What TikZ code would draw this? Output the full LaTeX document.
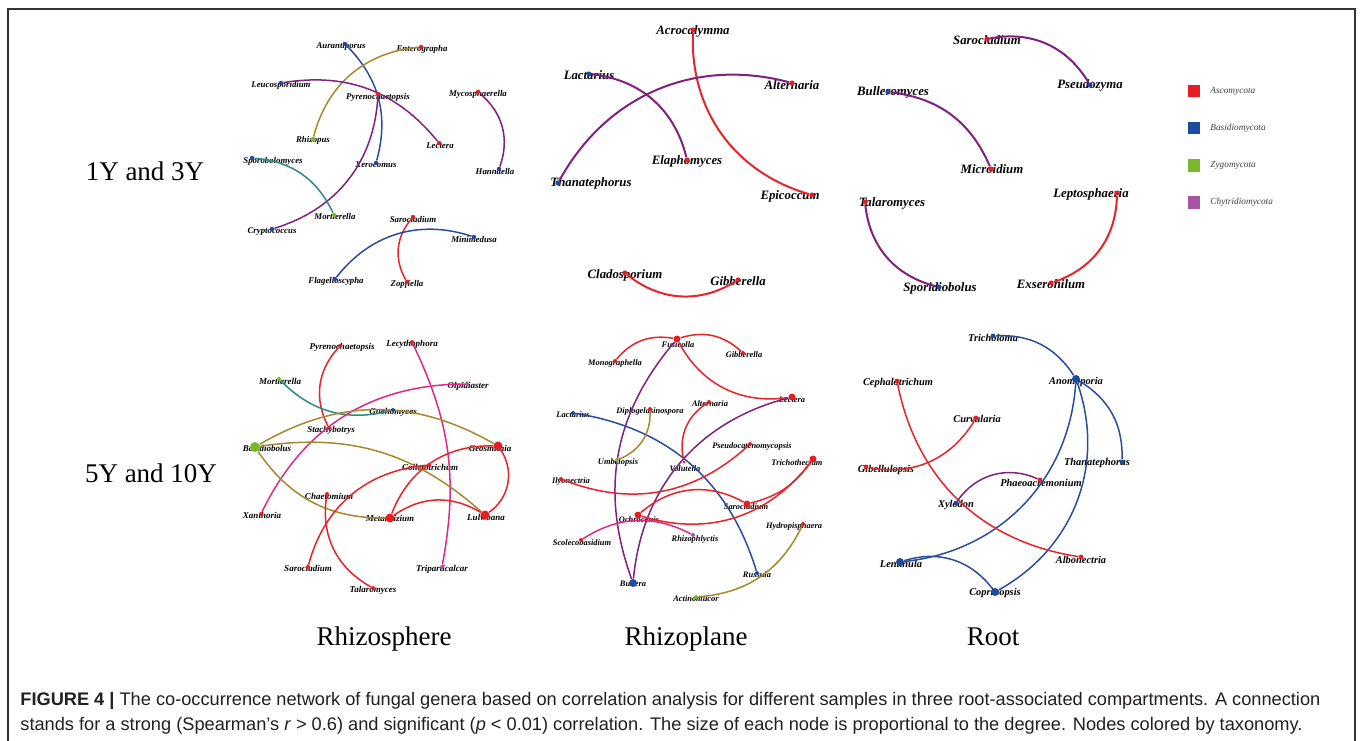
\documentclass[tikz,border=0pt]{standalone}
\usepackage{fontspec}
\usepackage{graphicx}
\setmainfont{Liberation Serif}
\newfontfamily\capfont{Liberation Sans}
\pgfdeclarelayer{bg}
\pgfdeclarelayer{lab}
\pgfdeclarelayer{edg}
\pgfsetlayers{bg,lab,edg,main}
\definecolor{asc}{HTML}{E61E23}
\definecolor{bas}{HTML}{1F4B9E}
\definecolor{zyg}{HTML}{78B82A}
\definecolor{chy}{HTML}{A855A8}
\definecolor{eR}{HTML}{E8232A}
\definecolor{eB}{HTML}{2A4DA0}
\definecolor{eP}{HTML}{80207F}
\definecolor{eT}{HTML}{2E8B8B}
\definecolor{eO}{HTML}{A8882E}
\definecolor{eK}{HTML}{E0288A}
\definecolor{captxt}{HTML}{231F20}
\tikzset{
  dot/.style={circle, inner sep=0pt, draw=none},
  lbl/.style={font=\fontsize{4.4}{5}\selectfont\bfseries\itshape, inner sep=0pt, text height=0.68em, text depth=0.2em},
  ed/.style={line width=0.75pt},
  edb/.style={line width=1pt},
  rowlbl/.style={font=\fontsize{13.5}{16}\selectfont, inner sep=0pt, anchor=base},
  legbox/.style={rectangle, inner sep=0pt, minimum size=6.2pt, draw=none},
  legtxt/.style={font=\fontsize{4.65}{6}\selectfont\itshape, text=black!75, inner sep=0pt, anchor=west},
}
\newcommand{\gn}[6]{%
  \node[dot, fill=#4, minimum size=#3pt] (#1) at (#2) {};
  \begin{pgfonlayer}{lab}\node[lbl] (#1l) at (#5) {#6};\end{pgfonlayer}}
\begin{document}
\begin{tikzpicture}[x=0.5pt, y=-0.5pt]
\useasboundingbox (0,0) rectangle (1360,740);
\begin{pgfonlayer}{bg}
\fill[white] (0,0) rectangle (1360,740);
\end{pgfonlayer}
\draw[line width=0.7pt, draw=black!80] (8,742) -- (8,9) -- (1355,9) -- (1355,742);

% row and column labels
\node[rowlbl] (row1) at (145,180) {1Y and 3Y};
\node[rowlbl] (row2) at (151,482) {5Y and 10Y};
\node[rowlbl] (col1) at (384,645) {Rhizosphere};
\node[rowlbl] (col2) at (686,645) {Rhizoplane};
\node[rowlbl] (col3) at (993,645) {Root};

% legend
\node[legbox, fill=asc] (k1) at (1194,91) {};
\node[legbox, fill=bas] (k2) at (1194,128) {};
\node[legbox, fill=zyg] (k3) at (1194,165.5) {};
\node[legbox, fill=chy] (k4) at (1194,202.5) {};
\node[legtxt] (k1t) at (1210,91) {Ascomycota};
\node[legtxt] (k2t) at (1210,128) {Basidiomycota};
\node[legtxt] (k3t) at (1210,165.5) {Zygomycota};
\node[legtxt] (k4t) at (1210,202.5) {Chytridiomycota};

% Panel a: Rhizosphere 1Y and 3Y
\gn{a1}{345,44}{2.2}{bas}{341,44}{Aurantiporus}
\gn{a2}{421,47}{2.2}{asc}{422,47}{Enterographa}
\gn{a3}{281,83}{2.2}{bas}{281,83}{Leucosporidium}
\gn{a4}{378,94}{2.2}{asc}{378,95}{Pyrenochaetopsis}
\gn{a5}{478,92}{2.2}{asc}{478,92}{Mycosphaerella}
\gn{a6}{313,139}{2.2}{zyg}{313,138}{Rhizopus}
\gn{a7}{439,143}{2.2}{asc}{440,144}{Lectera}
\gn{a8}{252,158}{2.2}{bas}{273,159}{Sporobolomyces}
\gn{a9}{376,163}{2.2}{bas}{376,163}{Xerocomus}
\gn{a10}{499,169}{2.2}{bas}{495,170}{Hannaella}
\gn{a11}{334,215}{2.2}{zyg}{335,215}{Mortierella}
\gn{a12}{272,229}{2.2}{bas}{272,229}{Cryptococcus}
\gn{a13}{413,217}{2.2}{asc}{413,218}{Sarocladium}
\gn{a14}{474,237}{2.2}{bas}{474,238}{Minimedusa}
\gn{a15}{335,279}{2.2}{bas}{336,279}{Flagelloscypha}
\gn{a16}{407,282}{2.2}{asc}{407,282}{Zopfiella}

% Panel b: Rhizoplane 1Y and 3Y
\begin{scope}[lbl/.append style={font=\fontsize{6.4}{7}\selectfont\bfseries\itshape}]
\gn{b1}{693,30}{2.6}{asc}{693,30}{Acrocalymma}
\gn{b2}{589,74}{2.6}{bas}{589,75}{Lactarius}
\gn{b3}{792,83}{2.6}{asc}{792,85}{Alternaria}
\gn{b4}{687,160}{2.6}{asc}{687,160}{Elaphomyces}
\gn{b5}{558,183}{2.6}{bas}{591,182}{Thanatephorus}
\gn{b6}{812,195}{2.6}{asc}{790,195}{Epicoccum}
\gn{b7}{625,273}{2.6}{asc}{625,274}{Cladosporium}
\gn{b8}{738,280}{2.6}{asc}{738,281}{Gibberella}
% Panel c: Root 1Y and 3Y
\gn{c1}{987,39}{2.6}{asc}{987,40}{Sarocladium}
\gn{c2}{1090,85}{2.6}{bas}{1090,84}{Pseudozyma}
\gn{c3}{888,92}{2.6}{bas}{893,91}{Bulleromyces}
\gn{c4}{991,169}{2.6}{asc}{992,169}{Microidium}
\gn{c5}{865,202}{2.6}{asc}{892,202}{Talaromyces}
\gn{c6}{1117,193}{2.6}{asc}{1091,193}{Leptosphaeria}
\gn{c7}{939,287}{2.6}{bas}{940,287}{Sporidiobolus}
\gn{c8}{1051,283}{2.6}{asc}{1051,284}{Exserohilum}
\end{scope}

% Panel d: Rhizosphere 5Y and 10Y
\begin{scope}[lbl/.append style={font=\fontsize{4.5}{5}\selectfont\bfseries\itshape}]
\gn{d1}{340,346}{2}{asc}{342,345}{Pyrenochaetopsis}
\gn{d2}{412,342}{2}{asc}{412,342}{Lecythophora}
\gn{d3}{279,379}{2}{zyg}{280,380}{Mortierella}
\gn{d4}{467,384}{2}{chy}{468,384}{Olpidiaster}
\gn{d5}{393,410}{2}{bas}{393,410}{Guehomyces}
\gn{d6}{329,428}{2}{asc}{331,428}{Stachybotrys}
\gn{d7}{255,447}{5}{zyg}{267,447}{Basidiobolus}
\gn{d8}{498,446}{4.5}{asc}{490,447}{Geosmithia}
\gn{d9}{429,465}{2}{asc}{430,466}{Colletotrichum}
\gn{d10}{327,494}{2}{asc}{329,495}{Chaetomium}
\gn{d11}{261,514}{2}{asc}{262,514}{Xanthoria}
\gn{d12}{390,518}{4.5}{asc}{390,517}{Metarhizium}
\gn{d13}{485,515}{4.5}{asc}{486,516}{Lulwoana}
\gn{d14}{308,567}{2}{asc}{308,567}{Sarocladium}
\gn{d15}{442,567}{2}{chy}{442,567}{Triparticalcar}
\gn{d16}{373,588}{2}{asc}{373,588}{Talaromyces}
\end{scope}

% Panel e: Rhizoplane 5Y and 10Y
\begin{scope}[lbl/.append style={font=\fontsize{4.2}{5}\selectfont\bfseries\itshape}]
\gn{e1}{677,339}{3.5}{asc}{678,343}{Fusicolla}
\gn{e2}{743,353}{2}{asc}{744,353}{Gibberella}
\gn{e3}{615,361}{2}{asc}{615,361}{Monographella}
\gn{e4}{792,397}{3.5}{asc}{792,398}{Lectera}
\gn{e5}{709,402}{2}{asc}{710,402}{Alternaria}
\gn{e6}{573,413}{2}{bas}{573,413}{Lactarius}
\gn{e7}{650,409}{2}{asc}{650,409}{Diplogelasinospora}
\gn{e8}{750,444}{2}{asc}{752,444}{Pseudocatenomycopsis}
\gn{e9}{617,460}{2}{zyg}{618,460}{Umbelopsis}
\gn{e10}{684,462}{1.5}{asc}{685,467}{Volutella}
\gn{e11}{813,459}{3.5}{asc}{797,461}{Trichothecium}
\gn{e12}{561,479}{2}{asc}{571,479}{Ilyonectria}
\gn{e13}{747,504}{3.5}{asc}{746,505}{Sarocladium}
\gn{e14}{638,515}{3.5}{asc}{639,518}{Ochroconis}
\gn{e15}{803,524}{2}{asc}{794,524}{Hydropisphaera}
\gn{e16}{581,540}{2}{asc}{582,541}{Scolecobasidium}
\gn{e17}{693,535}{2}{chy}{695,537}{Rhizophlyctis}
\gn{e18}{757,573}{2}{bas}{757,573}{Russula}
\gn{e19}{633,583}{4}{bas}{633,582}{Bullera}
\gn{e20}{696,597}{2}{zyg}{696,597}{Actinomucor}
\end{scope}

% Panel f: Root 5Y and 10Y
\begin{scope}[lbl/.append style={font=\fontsize{5.2}{6}\selectfont\bfseries\itshape}]
\gn{f1}{993,336}{2.4}{bas}{993,337}{Tricholoma}
\gn{f2}{1076,379}{4}{bas}{1076,380}{Anomoporia}
\gn{f3}{897,381}{2.4}{asc}{898,381}{Cephalotrichum}
\gn{f4}{976,418}{2.4}{asc}{977,418}{Curvularia}
\gn{f5}{1122,462}{2.4}{bas}{1097,461}{Thanatephorus}
\gn{f6}{866,467}{2.4}{asc}{886,468}{Gibellulopsis}
\gn{f7}{1040,480}{2.4}{asc}{1041,482}{Phaeoacremonium}
\gn{f8}{956,503}{2.4}{bas}{956,503}{Xylodon}
\gn{f9}{1081,557}{2.4}{asc}{1081,559}{Albonectria}
\gn{f10}{900,562}{4}{bas}{901,563}{Lentinula}
\gn{f11}{995,592}{4}{bas}{995,591}{Coprinopsis}
\end{scope}

\begin{pgfonlayer}{edg}
% a
\draw[ed, eB] (a1) to[bend left=30] (a9);
\draw[ed, eO] (a2) to[bend right=35] (a6);
\draw[ed, eP] (a3) to[bend left=30] (a7);
\draw[ed, eP] (a4) to[bend left=35] (a12);
\draw[ed, eP] (a5) to[bend left=35] (a10);
\draw[ed, eT] (a8) to[bend left=30] (a11);
\draw[ed, eR] (a13) to[bend right=35] (a16);
\draw[ed, eB] (a14) to[bend right=35] (a15);
% b
\draw[edb, eR] (b1) to[bend right=38] (b6);
\draw[edb, eP] (b2) to[bend left=35] (b4);
\draw[edb, eP] (b5) to[bend left=38] (b3);
\draw[edb, eR] (b7) to[bend right=35] (b8);
% c
\draw[edb, eP] (c1) to[bend left=35] (c2);
\draw[edb, eP] (c3) to[bend left=30] (c4);
\draw[edb, eP] (c5) to[bend right=35] (c7);
\draw[edb, eR] (c6) to[bend left=35] (c8);
% d
\draw[ed, eR] (d1) to[bend right=35] (d6);
\draw[ed, eK] (d2) to[bend left=18] (d15);
\draw[ed, eT] (d3) to[bend right=30] (d5);
\draw[ed, eK] (d4) to[bend right=32] (d11);
\draw[ed, eO] (d7) to[bend left=30] (d8);
\draw[ed, eO] (d7) to[bend left=25] (d13);
\draw[ed, eO] (d7) to[bend right=28] (d12);
\draw[ed, eR] (d8) to[bend right=35] (d12);
\draw[ed, eR] (d8) to[bend left=45] (d13);
\draw[ed, eR] (d12) to[bend left=33] (d13);
\draw[ed, eR] (d9) to[bend right=35] (d14);
\draw[ed, eR] (d10) to[bend right=35] (d16);
% e
\draw[ed, eR] (e3) to[bend left=30] (e1);
\draw[ed, eR] (e1) to[bend left=30] (e2);
\draw[ed, eR] (e1) to[bend right=35] (e4);
\draw[ed, eP] (e1) to[bend right=30] (e19);
\draw[ed, eP] (e4) to[bend right=35] (e19);
\draw[ed, eB] (e6) to[bend left=32] (e18);
\draw[ed, eO] (e7) to[bend left=35] (e9);
\draw[ed, eR] (e5) to[bend right=35] (e10);
\draw[ed, eR] (e8) to[bend left=32] (e12);
\draw[ed, eR] (e11) to[bend left=20] (e13);
\draw[ed, eR] (e11) to[bend left=35] (e14);
\draw[ed, eR] (e13) to[bend right=35] (e14);
\draw[ed, eK] (e16) to[bend left=30] (e17);
\draw[ed, eO] (e15) to[bend left=30] (e20);
% f
\draw[ed, eB] (f1) to[bend left=30] (f2);
\draw[ed, eB] (f2) to[bend left=30] (f5);
\draw[ed, eB] (f2) to[bend left=40] (f10);
\draw[ed, eB] (f2) to[bend left=40] (f11);
\draw[ed, eB] (f10) to[bend left=35] (f11);
\draw[ed, eR] (f3) to[bend right=35] (f9);
\draw[ed, eR] (f4) to[bend left=35] (f6);
\draw[ed, eP] (f8) to[bend left=40] (f7);
\end{pgfonlayer}

% caption
\node[anchor=base west, inner sep=0pt, text=captxt] (cap1) at (20,705)
  {\resizebox{650pt}{!}{\capfont\fontsize{8.2}{10}\selectfont\textbf{FIGURE 4 |} The co-occurrence network of fungal genera based on correlation analysis for different samples in three root-associated compartments. A connection}};
\node[anchor=base west, inner sep=0pt, text=captxt] (cap2) at (20,730)
  {\resizebox{641pt}{!}{\capfont\fontsize{8.2}{10}\selectfont stands for a strong (Spearman’s \textit{r} > 0.6) and significant (\textit{p} < 0.01) correlation. The size of each node is proportional to the degree. Nodes colored by taxonomy.}};
\end{tikzpicture}
\end{document}
